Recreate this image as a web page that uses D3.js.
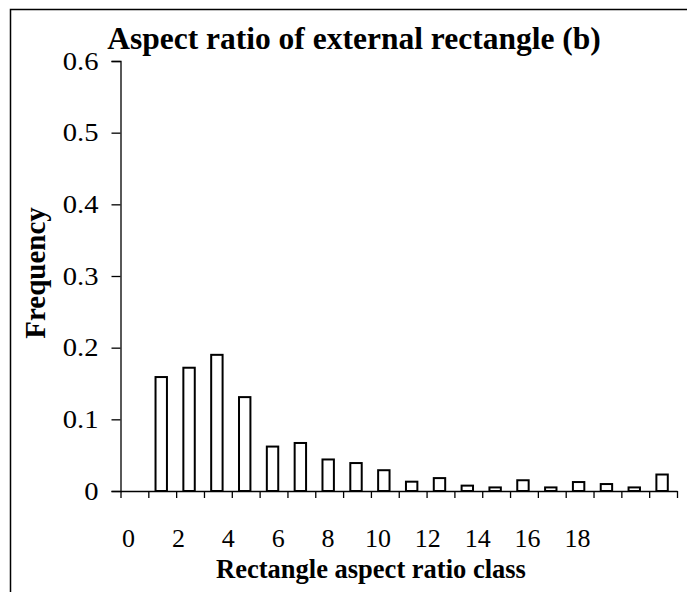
<!DOCTYPE html>
<html><head><meta charset="utf-8">
<script src="https://cdn.jsdelivr.net/npm/d3@7"></script>
<style>body{margin:0;background:#fff}svg{display:block}text{font-family:"Liberation Serif","Times New Roman",serif;fill:#000}</style>
</head><body>
<script>
const categories = d3.range(0, 20);
const frequency = [0, 0.159, 0.172, 0.190, 0.131, 0.062, 0.067, 0.044, 0.039, 0.029, 0.013, 0.018, 0.0075, 0.005, 0.015, 0.005, 0.0125, 0.0097, 0.005, 0.023];
const yTicks = [0, 0.1, 0.2, 0.3, 0.4, 0.5, 0.6];
const xLabels = [0, 2, 4, 6, 8, 10, 12, 14, 16, 18];
const title = "Aspect ratio of external rectangle (b)";
const xTitle = "Rectangle aspect ratio class";
const yTitle = "Frequency";

const W = 687, H = 592;
const svg = d3.select("body").append("svg").attr("width", W).attr("height", H);

// outer frame (top and left edges visible)
svg.append("path").attr("d", "M10.5,592V9.5H687").attr("fill", "none").attr("stroke", "#000").attr("stroke-width", 1.5);

const x0 = 120.5, x1 = 677, yTop = 61, yBase = 491;
const x = d3.scaleBand().domain(categories).range([x0, x1]).paddingInner(0.59).paddingOuter(0.295);
const y = d3.scaleLinear().domain([0, 0.6]).range([yBase, yTop]);

// bars
svg.append("g").selectAll("rect").data(categories).join("rect")
  .attr("x", d => x(d) - 1)
  .attr("y", d => y(frequency[d]))
  .attr("width", x.bandwidth())
  .attr("height", d => yBase - y(frequency[d]))
  .attr("fill", "#fff").attr("stroke", "#000").attr("stroke-width", 2)
  .attr("display", d => frequency[d] > 0 ? null : "none");

// y axis
const yAxis = svg.append("g").attr("transform", `translate(${x0},0)`)
  .call(d3.axisLeft(y).tickValues(yTicks).tickSize(9).tickPadding(13).tickFormat(d => d === 0 ? "0" : d3.format(".1f")(d)));
yAxis.select(".domain").attr("stroke", "#000").attr("stroke-width", 1.3);
yAxis.selectAll(".tick line").attr("stroke", "#000").attr("stroke-width", 1.3);
yAxis.selectAll("text").style("font-size", "26px").attr("fill", "#000")
  .attr("x", 0).attr("dy", "0.32em").attr("transform", "translate(-22,0) scale(1.1,1)");

// x axis (boundaries between category bands)
const xEdge = d3.scaleLinear().domain([0, 20]).range([x0, x1]);
const xAxis = svg.append("g").attr("transform", `translate(0,${yBase})`)
  .call(d3.axisBottom(xEdge).tickValues(d3.range(0, 21)).tickSize(7).tickSizeOuter(0).tickFormat(""));
xAxis.select(".domain").attr("stroke", "#000").attr("stroke-width", 1.3);
xAxis.selectAll(".tick line").attr("stroke", "#000").attr("stroke-width", 1.3);

// x labels
const xLab = d3.scaleLinear().domain([0, 18]).range([128, 577]);
const xLabAxis = svg.append("g").attr("transform", `translate(0,${yBase})`)
  .call(d3.axisBottom(xLab).tickValues(xLabels).tickSize(0).tickPadding(0).tickFormat(d3.format("d")));
xLabAxis.select(".domain").remove();
xLabAxis.selectAll("text").style("font-size", "26px").attr("fill", "#000").attr("y", 56).attr("dy", 0);

// titles
svg.append("text").attr("x", 354).attr("y", 49).attr("text-anchor", "middle")
  .style("font-size", "31.5px").style("font-weight", "bold").text(title);
svg.append("text").attr("x", 371).attr("y", 578).attr("text-anchor", "middle")
  .style("font-size", "26.5px").style("font-weight", "bold").text(xTitle);
svg.append("text").attr("transform", "translate(45,273) rotate(-90)").attr("text-anchor", "middle")
  .style("font-size", "29px").style("font-weight", "bold").text(yTitle);
</script>
</body></html>
